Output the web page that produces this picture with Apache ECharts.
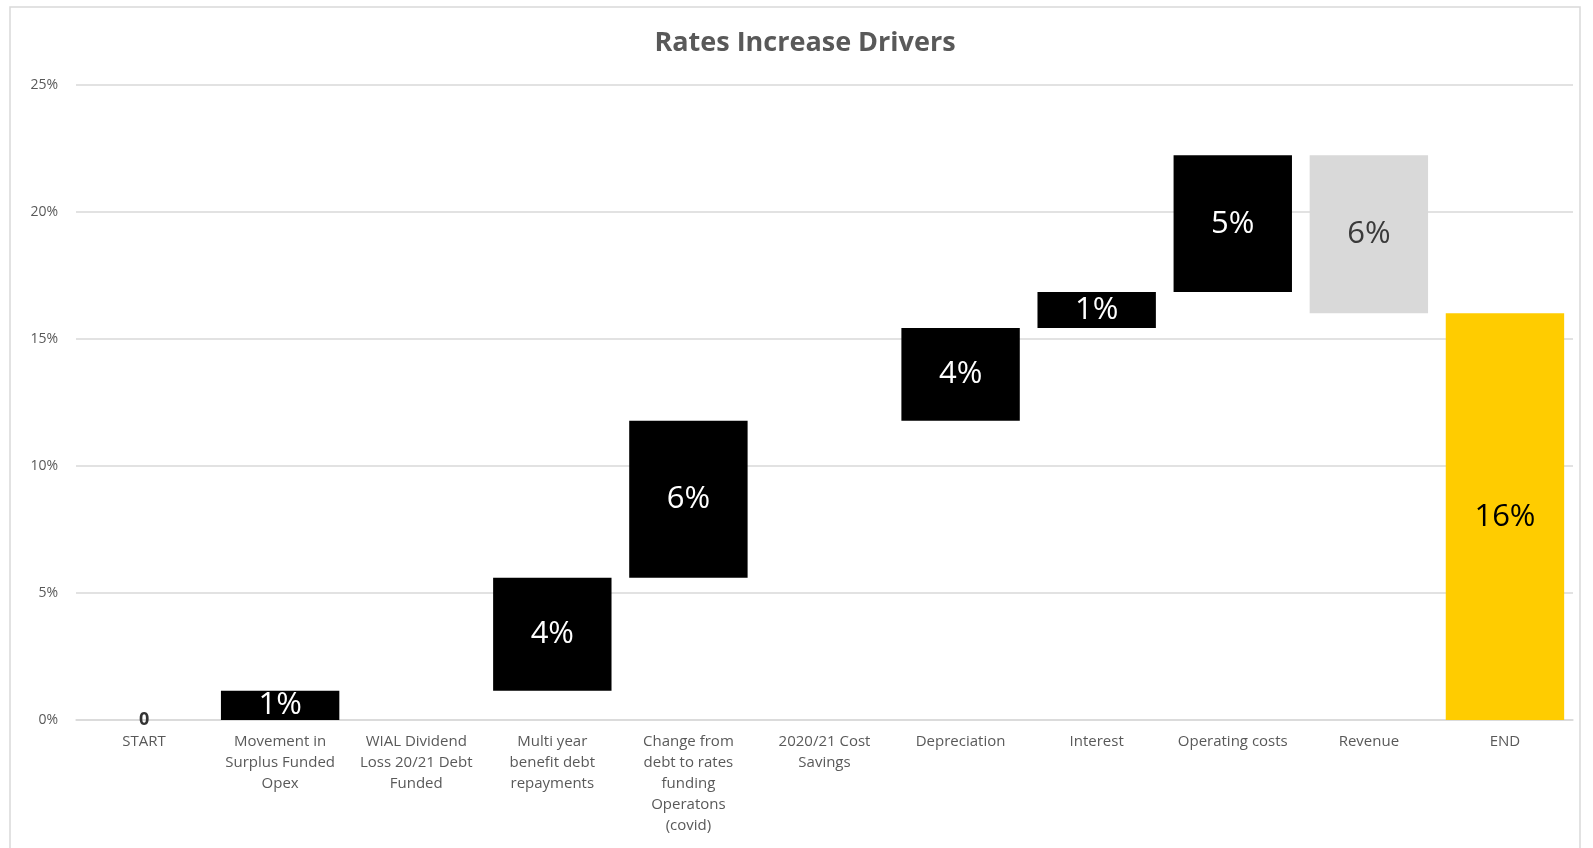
<!DOCTYPE html>
<html>
<head>
<meta charset="utf-8">
<script src="https://cdn.jsdelivr.net/npm/echarts@6/dist/echarts.min.js"></script>
<style>
html,body{margin:0;padding:0;background:#fff;}
#chart{width:1593px;height:848px;}
</style>
</head>
<body>
<div id="chart"></div>
<script>
var categories = [
  "START",
  "Movement in\nSurplus Funded\nOpex",
  "WIAL Dividend\nLoss 20/21 Debt\nFunded",
  "Multi year\nbenefit debt\nrepayments",
  "Change from\ndebt to rates\nfunding\nOperatons\n(covid)",
  "2020/21 Cost\nSavings",
  "Depreciation",
  "Interest",
  "Operating costs",
  "Revenue",
  "END"
];
// change in percentage points for each step; END is the resulting total
var deltas = [0, 1.15, 0, 4.45, 6.18, 0, 3.65, 1.42, 5.38, -6.22, 16.01];
var kinds = ["start", "step", "step", "step", "step", "step", "step", "step", "step", "step", "total"];
var yTicks = [0, 5, 10, 15, 20, 25];

var baseVals = [], heightVals = [];
var cum = 0;
for (var i = 0; i < deltas.length; i++) {
  var d = deltas[i];
  if (kinds[i] === "total" || kinds[i] === "start") {
    baseVals.push(0); heightVals.push(d); cum = d;
  } else if (d >= 0) {
    baseVals.push(cum); heightVals.push(d); cum += d;
  } else {
    cum += d; baseVals.push(cum); heightVals.push(-d);
  }
}

var fillFor = function (i) {
  if (kinds[i] === "total") return "#ffcc00";
  if (deltas[i] < 0) return "#d9d9d9";
  return "#000000";
};
var labelColorFor = function (i) {
  if (kinds[i] === "total") return "#000000";
  if (deltas[i] < 0) return "#3a3a3a";
  if (kinds[i] === "start") return "#333333";
  return "#ffffff";
};

var barData = heightVals.map(function (v, i) {
  var show = kinds[i] === "start" || Math.abs(deltas[i]) > 0;
  return {
    value: v,
    itemStyle: { color: fillFor(i) },
    label: {
      show: show,
      color: labelColorFor(i),
      fontSize: kinds[i] === "start" ? 18 : 31,
      fontWeight: kinds[i] === "start" ? "bold" : "normal"
    }
  };
});

var chart = echarts.init(document.getElementById("chart"));
chart.setOption({
  animation: false,
  backgroundColor: "#ffffff",
  textStyle: { fontFamily: "Open Sans" },
  title: {
    text: "Rates Increase Drivers",
    left: 800,
    textAlign: "center",
    top: 25,
    textStyle: { fontFamily: "Open Sans", fontSize: 27, fontWeight: "bold", color: "#595959" }
  },
  graphic: [{
    type: "rect",
    shape: { x: 10, y: 7, width: 1570, height: 860 },
    style: { fill: "none", stroke: "#d9d9d9", lineWidth: 1.5 },
    silent: true
  }],
  grid: { left: 76, right: 20, top: 85, bottom: 128, containLabel: false },
  xAxis: {
    type: "category",
    data: categories,
    axisLine: { lineStyle: { color: "#d9d9d9", width: 1.5 } },
    axisTick: { show: false },
    axisLabel: {
      interval: 0,
      color: "#595959",
      fontSize: 15,
      lineHeight: 21,
      margin: 11,
      fontFamily: "Open Sans"
    }
  },
  yAxis: {
    type: "value",
    min: 0,
    max: 25,
    interval: 5,
    axisLine: { show: false },
    axisTick: { show: false },
    splitLine: { lineStyle: { color: "#d9d9d9", width: 1.5 } },
    axisLabel: {
      color: "#595959",
      fontSize: 14,
      margin: 18,
      formatter: function (v) { return yTicks.indexOf(v) >= 0 ? v + "%" : ""; }
    }
  },
  series: [
    {
      name: "base",
      type: "bar",
      stack: "w",
      data: baseVals,
      itemStyle: { color: "transparent" },
      barWidth: "87%",
      silent: true
    },
    {
      name: "change",
      type: "bar",
      stack: "w",
      data: barData,
      barWidth: "87%",
      label: {
        show: true,
        position: "inside",
        fontFamily: "Open Sans",
        formatter: function (p) {
          return Math.round(Math.abs(deltas[p.dataIndex])) + (kinds[p.dataIndex] === "start" ? "" : "%");
        }
      }
    }
  ]
});
</script>
</body>
</html>
